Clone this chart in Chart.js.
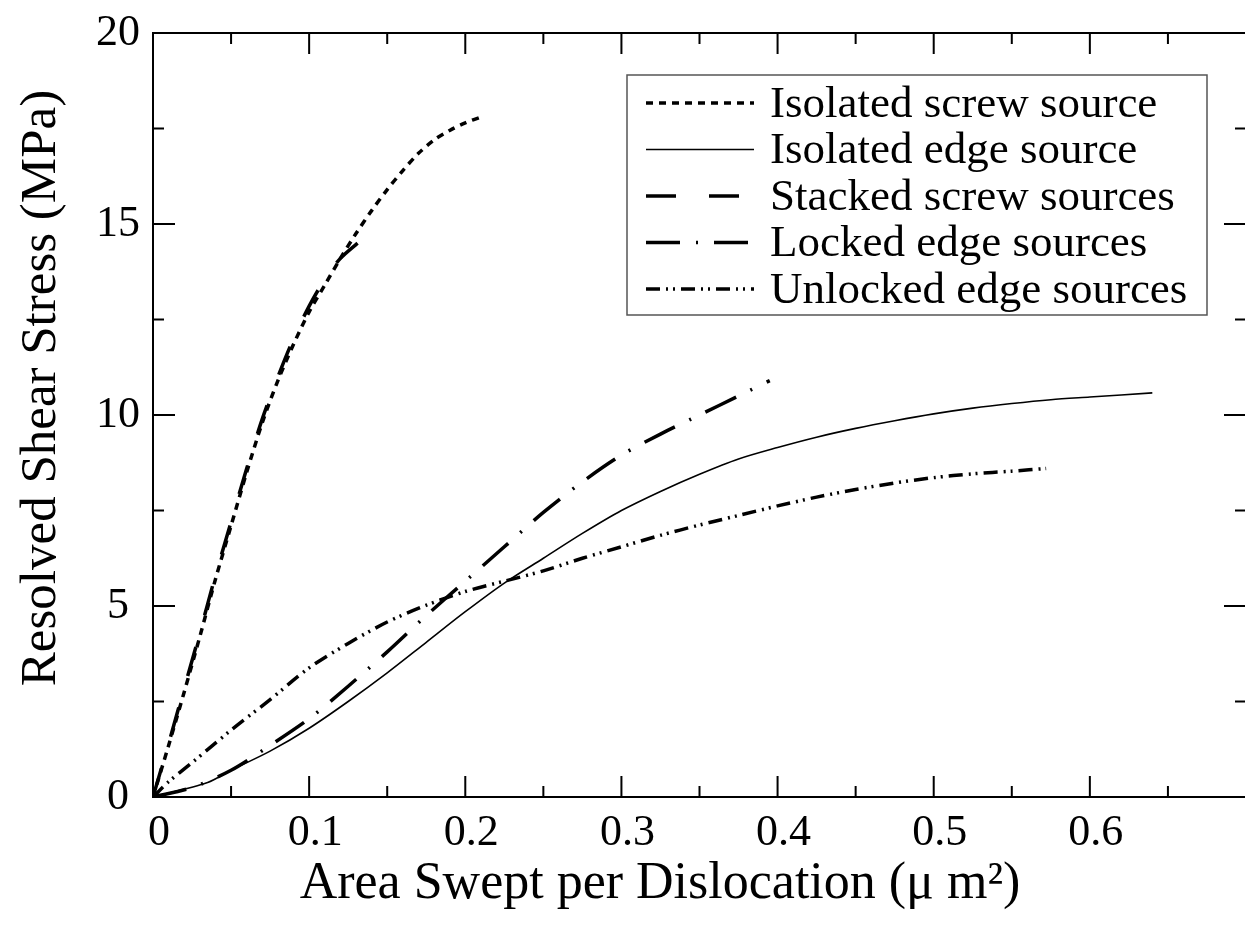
<!DOCTYPE html>
<html>
<head>
<meta charset="utf-8">
<script src="https://cdn.jsdelivr.net/npm/chart.js@4.4.1/dist/chart.umd.min.js"></script>
<style>
  html, body { margin: 0; padding: 0; background: #fff; overflow: hidden; }
  #wrap { width: 1248px; height: 938px; }
</style>
</head>
<body>
<div id="wrap"><canvas id="grafico" width="1248" height="938"></canvas></div>
<script>
// valores (area en um^2, esfuerzo en MPa)
const screwX = [0, 0.01, 0.02, 0.03, 0.04, 0.05, 0.06, 0.07, 0.08, 0.09, 0.1, 0.11, 0.12, 0.13, 0.14, 0.15, 0.16, 0.17, 0.18, 0.19, 0.2, 0.21];
const screwY = [0, 1.35, 2.75, 4.2, 5.7, 7.1, 8.5, 9.8, 10.9, 11.85, 12.7, 13.4, 14.1, 14.75, 15.35, 15.9, 16.4, 16.85, 17.2, 17.45, 17.65, 17.8];

const edgeX = [0, 0.035, 0.05, 0.075, 0.1, 0.125, 0.15, 0.175, 0.2, 0.225, 0.25, 0.275, 0.3, 0.325, 0.35, 0.375, 0.4, 0.425, 0.45, 0.475, 0.5, 0.525, 0.55, 0.575, 0.6, 0.64];
const edgeY = [0, 0.38, 0.7, 1.2, 1.8, 2.5, 3.25, 4.05, 4.85, 5.6, 6.25, 6.9, 7.5, 8.0, 8.45, 8.85, 9.15, 9.42, 9.65, 9.85, 10.03, 10.18, 10.3, 10.4, 10.47, 10.58];

const stackedX = [0, 0.01, 0.02, 0.03, 0.04, 0.05, 0.06, 0.07, 0.08, 0.09, 0.1, 0.11, 0.12, 0.131];
const stackedY = [0, 1.4, 2.85, 4.3, 5.8, 7.2, 8.6, 9.9, 11.0, 12.0, 12.85, 13.55, 14.1, 14.5];

const lockedX = [0, 0.025, 0.05, 0.075, 0.1, 0.125, 0.15, 0.175, 0.2, 0.225, 0.25, 0.275, 0.3, 0.325, 0.35, 0.375, 0.395];
const lockedY = [0, 0.25, 0.7, 1.35, 2.05, 2.9, 3.8, 4.75, 5.65, 6.55, 7.45, 8.25, 8.95, 9.5, 10.0, 10.5, 10.9];

const unlockedX = [0, 0.01, 0.025, 0.05, 0.075, 0.1, 0.125, 0.15, 0.175, 0.2, 0.225, 0.25, 0.275, 0.3, 0.325, 0.35, 0.375, 0.4, 0.425, 0.45, 0.475, 0.5, 0.525, 0.55, 0.572];
const unlockedY = [0, 0.4, 0.9, 1.75, 2.55, 3.38, 4.02, 4.58, 5.02, 5.38, 5.65, 5.92, 6.25, 6.55, 6.85, 7.12, 7.37, 7.62, 7.85, 8.05, 8.22, 8.36, 8.46, 8.53, 8.6];

const etiquetas = ["Isolated screw source", "Isolated edge source", "Stacked screw sources", "Locked edge sources", "Unlocked edge sources"];

const xTickLabels = ["0", "0.1", "0.2", "0.3", "0.4", "0.5", "0.6"];
const xMajorTicks = [0, 0.1, 0.2, 0.3, 0.4, 0.5, 0.6, 0.7];
const xMinorTicks = [0.05, 0.15, 0.25, 0.35, 0.45, 0.55, 0.65];
const yMajorTicks = [0, 5, 10, 15, 20];
const yMinorTicks = [2.5, 7.5, 12.5, 17.5];

const tituloX = "Area Swept per Dislocation (μ m²)";
const tituloY = "Resolved Shear Stress (MPa)";
const fuente = "'Liberation Serif', 'Times New Roman', serif";

function puntos(xs, ys) {
    return xs.map((x, i) => ({ x: x, y: ys[i] }));
}

function serie(label, xs, ys, ancho, guiones) {
    return {
        label: label,
        data: puntos(xs, ys),
        borderColor: "#000",
        borderWidth: ancho,
        borderDash: guiones,
        pointRadius: 0,
        fill: false,
        tension: 0.3
    };
}

// marco, marcas de ejes, titulos y leyenda
const decoracion = {
    id: "decoracion",
    afterDraw(chart) {
        const ctx = chart.ctx;
        const area = chart.chartArea;
        const sx = chart.scales.x;
        const sy = chart.scales.y;
        ctx.save();
        ctx.strokeStyle = "#000";
        ctx.lineWidth = 2;
        ctx.setLineDash([]);
        ctx.strokeRect(area.left, area.top, area.right - area.left, area.bottom - area.top);

        const marcaX = (v, largo) => {
            const px = sx.getPixelForValue(v);
            ctx.beginPath();
            ctx.moveTo(px, area.bottom); ctx.lineTo(px, area.bottom - largo);
            ctx.moveTo(px, area.top); ctx.lineTo(px, area.top + largo);
            ctx.stroke();
        };
        const marcaY = (v, largo) => {
            const py = sy.getPixelForValue(v);
            ctx.beginPath();
            ctx.moveTo(area.left, py); ctx.lineTo(area.left + largo, py);
            ctx.moveTo(area.right, py); ctx.lineTo(area.right - largo, py);
            ctx.stroke();
        };
        xMajorTicks.forEach(v => marcaX(v, 21));
        xMinorTicks.forEach(v => marcaX(v, 11));
        yMajorTicks.forEach(v => marcaY(v, 22));
        yMinorTicks.forEach(v => marcaY(v, 11));

        // titulos
        ctx.fillStyle = "#000";
        ctx.font = "52px " + fuente;
        ctx.textAlign = "center";
        ctx.textBaseline = "middle";
        ctx.fillText(tituloX, 660, 884);
        ctx.save();
        ctx.translate(42, 388);
        ctx.rotate(-Math.PI / 2);
        ctx.font = "51px " + fuente;
        ctx.fillText(tituloY, 0, 0);
        ctx.restore();

        // leyenda
        ctx.lineWidth = 1.5;
        ctx.strokeStyle = "#555";
        ctx.strokeRect(627, 75, 580, 240);
        ctx.font = "45px " + fuente;
        ctx.textAlign = "left";
        chart.data.datasets.forEach((ds, i) => {
            const y = 103 + i * 46.5;
            ctx.strokeStyle = "#000";
            ctx.lineWidth = ds.borderWidth;
            ctx.setLineDash(ds.borderDash || []);
            ctx.beginPath();
            ctx.moveTo(646, y);
            ctx.lineTo(754, y);
            ctx.stroke();
            ctx.setLineDash([]);
            ctx.fillText(ds.label, 770, y + 2);
        });
        ctx.restore();
    }
};

const ctx = document.getElementById("grafico").getContext("2d");
const chart = new Chart(ctx, {
    type: "line",
    data: {
        datasets: [
            serie(etiquetas[0], screwX, screwY, 3.5, [7, 6]),
            serie(etiquetas[1], edgeX, edgeY, 1.6, []),
            serie(etiquetas[2], stackedX, stackedY, 3.5, [30, 33]),
            serie(etiquetas[3], lockedX, lockedY, 3.5, [34, 16, 2, 16]),
            serie(etiquetas[4], unlockedX, unlockedY, 3.5, [14, 6, 2, 5, 2, 6])
        ]
    },
    options: {
        responsive: false,
        animation: false,
        devicePixelRatio: 1,
        layout: { autoPadding: false, padding: { top: 33, right: 2, left: 0, bottom: 0 } },
        plugins: {
            legend: { display: false },
            tooltip: { enabled: false }
        },
        scales: {
            x: {
                type: "linear",
                min: 0,
                max: 0.7,
                grid: { display: false, drawTicks: false },
                border: { display: false },
                ticks: {
                    stepSize: 0.1,
                    padding: 10,
                    labelOffset: 6,
                    color: "#000",
                    font: { family: fuente, size: 44 },
                    callback: (v) => xTickLabels[Math.round(v * 10)] || ""
                },
                afterFit: (scale) => {
                    scale.height = 141;
                    scale.paddingLeft = 0;
                    scale.paddingRight = 0;
                }
            },
            y: {
                type: "linear",
                min: 0,
                max: 20,
                grid: { display: false, drawTicks: false },
                border: { display: false },
                ticks: {
                    stepSize: 5,
                    padding: 13,
                    crossAlign: "center",
                    color: "#000",
                    font: { family: fuente, size: 44 }
                },
                afterFit: (scale) => {
                    scale.width = 153;
                    scale.paddingTop = 0;
                    scale.paddingBottom = 0;
                }
            }
        }
    },
    plugins: [decoracion]
});
</script>
</body>
</html>
